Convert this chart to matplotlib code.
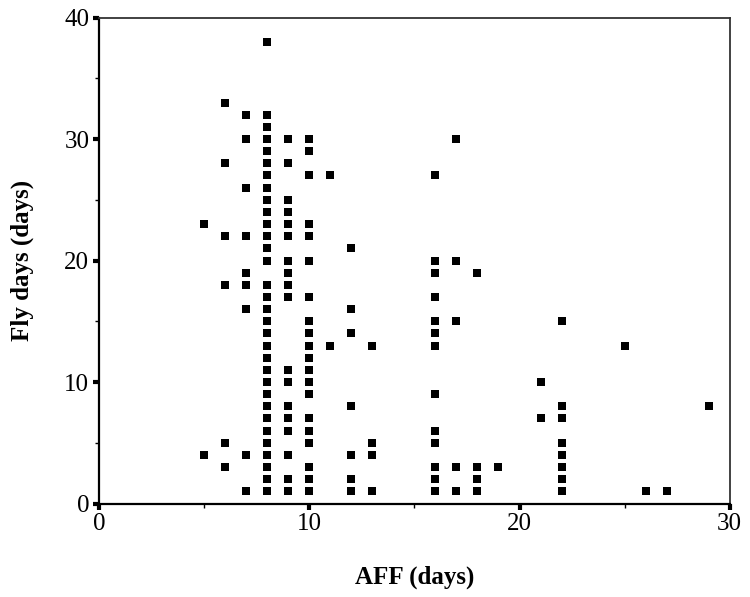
import numpy as np
import matplotlib
matplotlib.use('Agg')
import matplotlib.pyplot as plt
from matplotlib.ticker import MultipleLocator

# AFF (days) -> список значений Fly days для этого столбца
aff_5 = [23, 4]
aff_6 = [33, 28, 22, 18, 5, 3]
aff_7 = [32, 30, 26, 22, 19, 18, 16, 4, 1]
aff_8 = [38, 32, 31, 30, 29, 28, 27, 26, 25, 24, 23, 22, 21, 20, 18, 17, 16,
         15, 14, 13, 12, 11, 10, 9, 8, 7, 6, 5, 4, 3, 2, 1]
aff_9 = [30, 28, 25, 24, 23, 22, 20, 19, 18, 17, 11, 10, 8, 7, 6, 4, 2, 1]
aff_10 = [30, 29, 27, 23, 22, 20, 17, 15, 14, 13, 12, 11, 10, 9, 7, 6, 5, 3, 2, 1]
aff_11 = [27, 13]
aff_12 = [21, 16, 14, 8, 4, 2, 1]
aff_13 = [13, 5, 4, 1]
aff_16 = [27, 20, 19, 17, 15, 14, 13, 9, 6, 5, 3, 2, 1]
aff_17 = [30, 20, 15, 3, 1]
aff_18 = [19, 3, 2, 1]
aff_19 = [3]
aff_21 = [10, 7]
aff_22 = [15, 8, 7, 5, 4, 3, 2, 1]
aff_25 = [13]
aff_26 = [1]
aff_27 = [1]
aff_29 = [8]

columns = {5: aff_5, 6: aff_6, 7: aff_7, 8: aff_8, 9: aff_9, 10: aff_10,
           11: aff_11, 12: aff_12, 13: aff_13, 16: aff_16, 17: aff_17,
           18: aff_18, 19: aff_19, 21: aff_21, 22: aff_22, 25: aff_25,
           26: aff_26, 27: aff_27, 29: aff_29}

x = []
y = []
for aff, fly in columns.items():
    x += [aff] * len(fly)
    y += fly

plt.rcParams['font.family'] = ['Liberation Serif', 'DejaVu Serif']

fig = plt.figure(figsize=(7.5, 5.97), dpi=100)
ax = fig.add_axes([0.132, 0.1566, 0.841, 0.814])

ax.scatter(x, y, marker='s', s=30, color='black', linewidths=0, zorder=3)

ax.set_xlim(0, 30)
ax.set_ylim(0, 40)
ax.xaxis.set_major_locator(MultipleLocator(10))
ax.xaxis.set_minor_locator(MultipleLocator(5))
ax.yaxis.set_major_locator(MultipleLocator(10))
ax.yaxis.set_minor_locator(MultipleLocator(5))

ax.tick_params(which='major', direction='out', length=4, width=3, labelsize=18, pad=3)
ax.tick_params(which='minor', direction='out', length=3, width=1)

for side in ('left', 'bottom'):
    ax.spines[side].set_linewidth(1.6)
for side in ('top', 'right'):
    ax.spines[side].set_linewidth(1.3)
    ax.spines[side].set_color('#333333')

ax.set_xlabel('AFF (days)', fontsize=18, fontweight='bold', labelpad=22)
ax.set_ylabel('Fly days (days)', fontsize=18, fontweight='bold', labelpad=22)

fig.savefig('out.png', dpi=100)
